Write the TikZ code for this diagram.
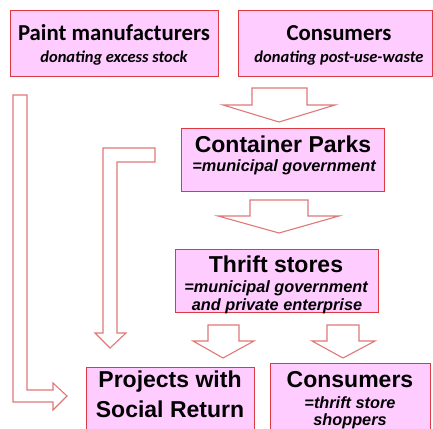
\documentclass[tikz,border=0pt]{standalone}
\usepackage{fontspec}
\setmainfont{Liberation Sans}
\newfontfamily\calfont{Carlito}
\definecolor{boxfill}{HTML}{FFCCFF}
\definecolor{boxline}{HTML}{DC3A40}
\definecolor{arrline}{HTML}{E07878}
\tikzset{
  pbox/.style={draw=boxline, fill=boxfill, line width=0.9pt, inner sep=0pt, anchor=north west},
  barrow/.style={draw=arrline, fill=white, line width=1.1pt, line join=miter},
  ttl/.style={font=\bfseries\fontsize{23}{25}\selectfont, inner sep=0pt},
  sub/.style={font=\bfseries\itshape\fontsize{16.3}{18}\selectfont, inner sep=0pt},
  cttl/.style={font=\calfont\bfseries\fontsize{22.8}{25}\selectfont, inner sep=0pt},
  csub/.style={font=\calfont\bfseries\itshape\fontsize{16.5}{18}\selectfont, inner sep=0pt},
}
\begin{document}
\begin{tikzpicture}[x=1pt,y=-1pt]
\useasboundingbox (0,0) rectangle (433,428);
\clip (0,0) rectangle (433,428);
% boxes
\node[pbox, minimum width=208pt, minimum height=66pt] (pm) at (10,10) {};
\node[pbox, minimum width=194pt, minimum height=66pt] (c1) at (238,10) {};
\node[pbox, minimum width=203pt, minimum height=63pt] (cp) at (181,128) {};
\node[pbox, minimum width=203pt, minimum height=63pt] (ts) at (175,249) {};
\node[pbox, minimum width=168pt, minimum height=80pt] (pr) at (86,367) {};
\node[pbox, minimum width=160pt, minimum height=80pt] (c2) at (270,363) {};
% texts
\node[cttl] (pmt) at (114,33) {Paint manufacturers};
\node[csub] (pms) at (114,58) {donating excess stock};
\node[cttl] (c1t) at (339,33) {Consumers};
\node[csub] (c1s) at (339,58) {donating post-use-waste};
\node[ttl] (cpt) at (283,144) {Container Parks};
\node[sub] (cps) at (284,167) {=municipal government};
\node[ttl] (tst) at (276,264) {Thrift stores};
\node[sub] (tss1) at (276,288) {=municipal government};
\node[sub] (tss2) at (277,306) {and private enterprise};
\node[ttl] (prt1) at (170,382) {Projects with};
\node[ttl] (prt2) at (170,409) {Social Return};
\node[ttl] (c2t) at (350,380) {Consumers};
\node[sub] (c2s1) at (350,403) {=thrift store};
\node[sub] (c2s2) at (350,421) {shoppers};
% block arrows
\draw[barrow] (252,88) -- (307,88) -- (307,105) -- (335,105) -- (279,122) -- (223,105) -- (252,105) -- cycle;
\draw[barrow] (250,200) -- (308,200) -- (308,216) -- (339,216) -- (279,233) -- (218,216) -- (250,216) -- cycle;
\draw[barrow] (208,325) -- (239,325) -- (239,341) -- (254,341) -- (223,358) -- (193,341) -- (208,341) -- cycle;
\draw[barrow] (327,325) -- (359,325) -- (359,341) -- (375,341) -- (343,358) -- (312,341) -- (327,341) -- cycle;
\draw[barrow] (155,148) -- (103,148) -- (103,333) -- (95,333) -- (110,348) -- (126,333) -- (117,333) -- (117,162) -- (155,162) -- cycle;
\draw[barrow] (13,95) -- (13,402) -- (53,402) -- (53,410) -- (67,396) -- (53,383) -- (53,390) -- (27,390) -- (27,95) -- cycle;
\end{tikzpicture}
\end{document}
